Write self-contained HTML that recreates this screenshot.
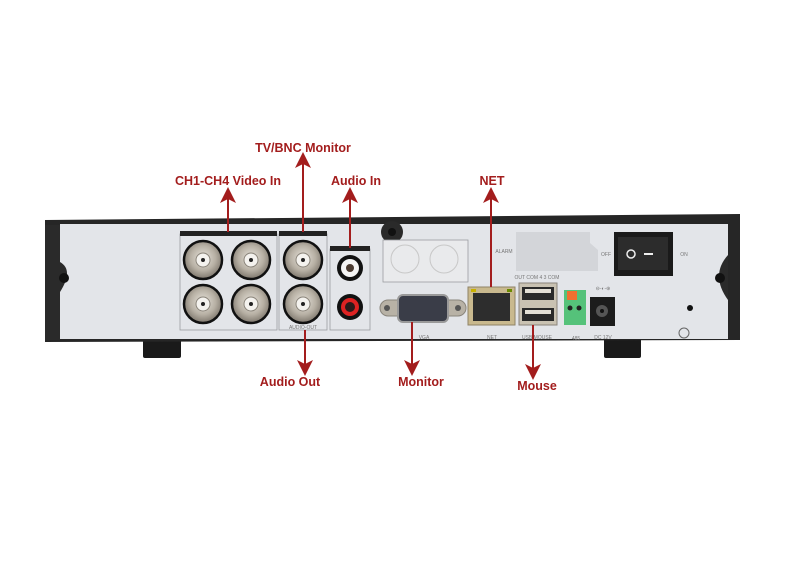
<!DOCTYPE html>
<html><head><meta charset="utf-8"><style>
html,body{margin:0;padding:0;background:#fff;width:800px;height:563px;overflow:hidden}
svg{display:block}
text{font-family:"Liberation Sans",sans-serif}
.l{fill:#a31d1d;font-weight:bold;font-size:12.5px;text-anchor:middle}
.s{fill:#777;font-size:5px;text-anchor:middle}
</style></head><body>
<svg width="800" height="563" viewBox="0 0 800 563">
<defs>
<radialGradient id="bnc" cx="50%" cy="45%" r="55%"><stop offset="0" stop-color="#e8e4dc"/><stop offset=".6" stop-color="#b7b0a4"/><stop offset="1" stop-color="#7d766c"/></radialGradient>
<marker id="ah" markerWidth="8" markerHeight="8" refX="4" refY="4" orient="auto"><path d="M0,0 L8,4 L0,8 L2,4z" fill="#a31d1d"/></marker>
</defs>
<!-- feet -->
<rect x="143" y="338" width="38" height="20" rx="2" fill="#1a1a1a"/>
<rect x="604" y="338" width="37" height="20" rx="2" fill="#1a1a1a"/>
<!-- chassis -->
<path d="M45,220 L740,214 L740,340 L45,342z" fill="#262626"/>
<rect x="60" y="224" width="668" height="115" fill="#e3e5e9"/>
<path d="M45,225 L60,225 L60,340 L45,340z" fill="#2a2a2a"/>
<path d="M60,262 q14,8 0,30z" fill="#2a2a2a"/>
<path d="M728,255 q-18,20 0,45z" fill="#2a2a2a"/>
<circle cx="64" cy="278" r="5" fill="#111"/>
<circle cx="720" cy="278" r="5" fill="#111"/>
<circle cx="392" cy="232" r="11" fill="#2a2a2a"/><circle cx="392" cy="232" r="4" fill="#111"/>
<!-- video in box -->
<rect x="180" y="234" width="97" height="96" fill="none" stroke="#9a9ca0" stroke-width="0.8"/>
<rect x="180" y="231" width="97" height="5" fill="#222"/>
<rect x="279" y="234" width="48" height="96" fill="none" stroke="#9a9ca0" stroke-width="0.8"/>
<rect x="279" y="231" width="48" height="5" fill="#222"/>
<rect x="330" y="249" width="40" height="81" fill="none" stroke="#9a9ca0" stroke-width="0.8"/>
<rect x="330" y="246" width="40" height="5" fill="#222"/>
<text class="s" x="303" y="329">AUDIO-OUT</text>
<g stroke="#111" stroke-width="2.5">
<circle cx="203" cy="260" r="19" fill="url(#bnc)"/><circle cx="251" cy="260" r="19" fill="url(#bnc)"/>
<circle cx="203" cy="304" r="19" fill="url(#bnc)"/><circle cx="251" cy="304" r="19" fill="url(#bnc)"/>
<circle cx="303" cy="260" r="19" fill="url(#bnc)"/><circle cx="303" cy="304" r="19" fill="url(#bnc)"/>
</g>
<g fill="#f4f2ee" stroke="#8a847a" stroke-width="1">
<circle cx="203" cy="260" r="7"/><circle cx="251" cy="260" r="7"/><circle cx="203" cy="304" r="7"/><circle cx="251" cy="304" r="7"/><circle cx="303" cy="260" r="7"/><circle cx="303" cy="304" r="7"/></g>
<g fill="#222"><circle cx="203" cy="260" r="2"/><circle cx="251" cy="260" r="2"/><circle cx="203" cy="304" r="2"/><circle cx="251" cy="304" r="2"/><circle cx="303" cy="260" r="2"/><circle cx="303" cy="304" r="2"/></g>
<!-- RCA -->
<circle cx="350" cy="268" r="13" fill="#111"/><circle cx="350" cy="268" r="9" fill="#f4f4f4"/><circle cx="350" cy="268" r="4" fill="#4a3a30"/>
<circle cx="350" cy="307" r="13" fill="#111"/><circle cx="350" cy="307" r="9" fill="#d22"/><circle cx="350" cy="307" r="5" fill="#2a1a1a"/>
<!-- blank box -->
<rect x="383" y="240" width="85" height="42" fill="#e9eaec" stroke="#9a9ca0" stroke-width="0.8"/>
<circle cx="405" cy="259" r="14" fill="none" stroke="#c8c8c8"/><circle cx="444" cy="259" r="14" fill="none" stroke="#c8c8c8"/>
<!-- VGA -->
<rect x="380" y="300" width="86" height="16" rx="8" fill="#b8b2a6" stroke="#8a857c"/>
<rect x="398" y="295" width="50" height="27" rx="5" fill="#3a3d48" stroke="#999" stroke-width="2"/>
<circle cx="387" cy="308" r="3" fill="#555"/><circle cx="458" cy="308" r="3" fill="#555"/>
<text class="s" x="424" y="339">VGA</text>
<!-- NET -->
<rect x="468" y="287" width="47" height="38" fill="#c9b98e" stroke="#8f8466"/>
<rect x="473" y="293" width="37" height="28" fill="#2d2d2d"/>
<rect x="471" y="289" width="5" height="3" fill="#c8b000"/><rect x="507" y="289" width="5" height="3" fill="#6a8a00"/>
<text class="s" x="492" y="339">NET</text>
<!-- alarm -->
<path d="M516,232 L590,232 L590,243 L598,250 L598,271 L516,271z" fill="#d3d5d9"/>
<text class="s" x="504" y="253">ALARM</text><text class="s" x="606" y="256">OFF</text><text class="s" x="684" y="256">ON</text>
<text class="s" x="537" y="279">OUT COM 4 3 COM</text>
<!-- USB -->
<rect x="519" y="283" width="38" height="42" fill="#c9c2b2" stroke="#8a847a"/>
<rect x="522" y="287" width="32" height="13" fill="#2a2a2a"/><rect x="525" y="289" width="26" height="4" fill="#e4e0d6"/>
<rect x="522" y="308" width="32" height="13" fill="#2a2a2a"/><rect x="525" y="310" width="26" height="4" fill="#e4e0d6"/>
<text class="s" x="537" y="339">USB MOUSE</text>
<!-- 485 -->
<rect x="564" y="290" width="22" height="35" fill="#55c27a"/>
<rect x="567" y="291" width="10" height="9" fill="#f07030"/>
<circle cx="570" cy="308" r="2.5" fill="#222"/><circle cx="579" cy="308" r="2.5" fill="#222"/>
<text class="s" x="576" y="340">485</text>
<!-- DC -->
<rect x="590" y="297" width="25" height="29" fill="#1c1c1c"/><circle cx="602" cy="311" r="6" fill="#555"/><circle cx="602" cy="311" r="2" fill="#111"/>
<text class="s" x="603" y="339">DC 12V</text>
<text class="s" x="603" y="290">⊖-◐-⊕</text>
<!-- switch -->
<rect x="614" y="232" width="59" height="44" fill="#1a1a1a"/>
<rect x="618" y="237" width="50" height="33" fill="#2c2c2c"/>
<circle cx="631" cy="254" r="4" fill="none" stroke="#eee" stroke-width="1.5"/>
<rect x="644" y="253" width="9" height="2" fill="#eee"/>
<circle cx="690" cy="308" r="3" fill="#111"/>
<circle cx="684" cy="333" r="5" fill="none" stroke="#666"/>
<!-- arrows -->
<g stroke="#a31d1d" stroke-width="2" fill="none">
<line x1="228" y1="232" x2="228" y2="195" marker-end="url(#ah)"/>
<line x1="303" y1="232" x2="303" y2="160" marker-end="url(#ah)"/>
<line x1="350" y1="248" x2="350" y2="195" marker-end="url(#ah)"/>
<line x1="491" y1="287" x2="491" y2="195" marker-end="url(#ah)"/>
<line x1="305" y1="330" x2="305" y2="368" marker-end="url(#ah)"/>
<line x1="412" y1="322" x2="412" y2="368" marker-end="url(#ah)"/>
<line x1="533" y1="325" x2="533" y2="372" marker-end="url(#ah)"/>
</g>
<text class="l" x="303" y="152">TV/BNC Monitor</text>
<text class="l" x="228" y="185">CH1-CH4 Video In</text>
<text class="l" x="356" y="185">Audio In</text>
<text class="l" x="492" y="185">NET</text>
<text class="l" x="290" y="386">Audio Out</text>
<text class="l" x="421" y="386">Monitor</text>
<text class="l" x="537" y="390">Mouse</text>
</svg>
</body></html>
